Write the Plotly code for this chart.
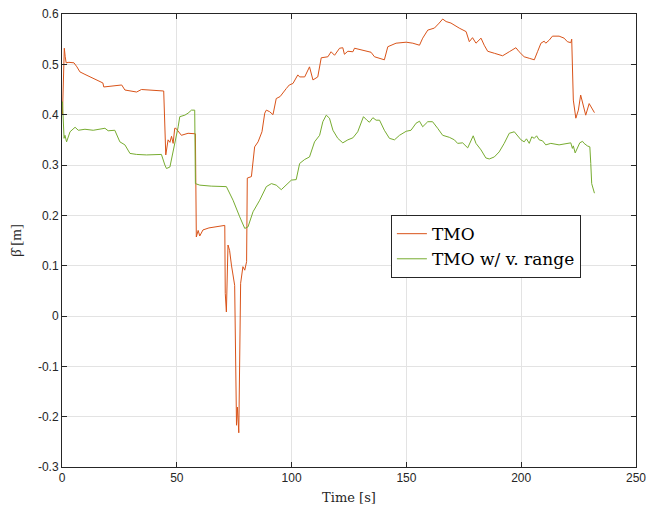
import plotly.graph_objects as go

# ---- data ----
tmo_t = [0.2, 0.6, 1.0, 1.4, 1.8, 3, 5.2, 6.5, 7.8, 10, 12, 13.6, 15.5, 17.8, 18.2, 21.6, 24, 26, 27.4, 30,
         32.5, 34.6, 37, 39.7, 42, 44.3, 45.2, 46.2, 47.0, 47.7, 48.4, 49.1, 49.6, 51, 52, 54.9, 58.1, 58.5,
         59.3, 60, 61.4, 64, 67, 70.9, 71.1, 71.6, 72.3, 73.0, 73.8, 75.2, 76.0, 76.4, 77.0, 77.8, 78.8, 79.6,
         80.4, 80.7, 82.5, 83.9, 85.4, 87.1, 88.3, 89, 90.4, 91.9, 93.3, 95, 97.7, 99, 100.6, 102.7, 103.5,
         105.7, 107.8, 109.3, 111.4, 112.9, 115.8, 117.2, 118.7, 120.9, 122.3, 123.0, 124.5, 126.7, 127.4,
         131, 134.6, 136.1, 140.4, 141.9, 145.5, 149.9, 152.8, 155.7, 157.1, 159.3, 162.2, 164.3, 165.8,
         167.3, 169.4, 173, 176, 177.4, 178.8, 180.3, 182.5, 183.9, 185.4, 188.3, 191.9, 194.8, 197.7, 199.1,
         201.3, 203.5, 205.7, 207.1, 208.6, 210, 210.7, 212.2, 213.6, 216.5, 218.7, 220.1, 221.6, 222.0,
         222.7, 223.8, 224.5, 224.9, 225.9, 226.7, 228.1, 229.6, 230.7, 231.9]
tmo_v = [0.40, 0.47, 0.532, 0.515, 0.503, 0.504, 0.503, 0.495, 0.485, 0.480, 0.476, 0.473, 0.468, 0.463, 0.455,
         0.457, 0.459, 0.459, 0.449, 0.447, 0.445, 0.450, 0.449, 0.449, 0.448, 0.447, 0.320, 0.350, 0.345, 0.357,
         0.343, 0.373, 0.373, 0.365, 0.359, 0.363, 0.362, 0.157, 0.170, 0.159, 0.171, 0.175, 0.177, 0.180, 0.045,
         0.008, 0.141, 0.130, 0.101, 0.061, -0.217, -0.181, -0.232, 0.065, 0.098, 0.091, 0.108, 0.274, 0.277,
         0.336, 0.346, 0.366, 0.403, 0.409, 0.406, 0.400, 0.432, 0.436, 0.452, 0.459, 0.462, 0.479, 0.475, 0.475,
         0.495, 0.469, 0.475, 0.513, 0.515, 0.525, 0.518, 0.532, 0.533, 0.520, 0.526, 0.525, 0.532, 0.528, 0.524,
         0.515, 0.509, 0.535, 0.542, 0.544, 0.542, 0.538, 0.552, 0.568, 0.572, 0.582, 0.590, 0.585, 0.582, 0.572,
         0.565, 0.545, 0.553, 0.542, 0.552, 0.538, 0.526, 0.522, 0.517, 0.525, 0.533, 0.525, 0.515, 0.512, 0.509,
         0.525, 0.542, 0.546, 0.542, 0.548, 0.556, 0.556, 0.552, 0.545, 0.543, 0.550, 0.429, 0.393, 0.403, 0.409,
         0.439, 0.422, 0.399, 0.422, 0.413, 0.404]

rng_t = [0.2, 0.5, 0.9, 1.3, 2.0, 3.5, 5.7, 7.1, 10, 13.6, 17.2, 18.7, 20.1, 23, 25.2, 27.4, 29.6, 32.5, 36.8,
         43.3, 44.8, 45.5, 47, 48.4, 50.6, 51.3, 53.5, 54.9, 56.4, 57.8, 58.1, 60, 65, 71.6, 74.5, 77.4, 79.6,
         81, 83.2, 86.1, 89, 91.2, 93.3, 95.5, 97.7, 99.9, 102, 102.7, 103.5, 105.7, 107.8, 110, 112.2, 113.6,
         115.1, 116.5, 118, 120.1, 122.3, 124.5, 126.7, 128.8, 130.3, 131.3, 132.8, 133.9, 135.4, 136.8, 138.3,
         140.4, 142.6, 144.8, 147, 149.9, 152, 154.2, 155.7, 157.1, 159.3, 161.4, 163.6, 165.8, 168.7, 170.9,
         172.3, 174.5, 176.7, 178.1, 179.1, 180.3, 182.5, 184.6, 186.1, 188.3, 190.4, 192.6, 194.8, 197, 198.4,
         199.9, 201.3, 202.3, 203.5, 204.6, 205.7, 206.7, 207.8, 209.3, 210.7, 212.9, 216.5, 218.7, 221.6,
         222.3, 222.7, 223.5, 224.5, 225.5, 226.7, 227.4, 228.8, 229.9, 230.3, 230.7, 231.9]
rng_v = [0.426, 0.38, 0.353, 0.359, 0.346, 0.366, 0.375, 0.369, 0.371, 0.369, 0.371, 0.373, 0.368, 0.369, 0.346,
         0.340, 0.323, 0.321, 0.320, 0.321, 0.300, 0.293, 0.296, 0.326, 0.376, 0.396, 0.399, 0.403, 0.409, 0.409,
         0.263, 0.260, 0.258, 0.257, 0.230, 0.197, 0.174, 0.177, 0.207, 0.230, 0.257, 0.263, 0.260, 0.251, 0.260,
         0.270, 0.271, 0.290, 0.303, 0.311, 0.316, 0.346, 0.359, 0.386, 0.399, 0.393, 0.369, 0.353, 0.344, 0.350,
         0.354, 0.366, 0.386, 0.396, 0.389, 0.385, 0.394, 0.389, 0.389, 0.369, 0.353, 0.350, 0.359, 0.367, 0.369,
         0.383, 0.387, 0.376, 0.386, 0.386, 0.373, 0.359, 0.355, 0.350, 0.343, 0.344, 0.334, 0.348, 0.358, 0.343,
         0.330, 0.314, 0.312, 0.316, 0.326, 0.343, 0.363, 0.366, 0.359, 0.350, 0.346, 0.352, 0.343, 0.356, 0.353,
         0.358, 0.350, 0.348, 0.340, 0.343, 0.340, 0.342, 0.344, 0.333, 0.338, 0.324, 0.336, 0.344, 0.347, 0.343,
         0.338, 0.336, 0.303, 0.263, 0.244]

x_ticks = [0, 50, 100, 150, 200, 250]
x_ticktext = ["0", "50", "100", "150", "200", "250"]
y_ticks = [-0.3, -0.2, -0.1, 0, 0.1, 0.2, 0.3, 0.4, 0.5, 0.6]
y_ticktext = ["-0.3", "-0.2", "-0.1", "0", "0.1", "0.2", "0.3", "0.4", "0.5", "0.6"]

series_names = ["TMO", "TMO w/ v. range"]
series_colors = ["#D95319", "#77AC30"]

fig = go.Figure()
fig.add_trace(go.Scatter(x=tmo_t, y=tmo_v, mode="lines", name=series_names[0],
                         line=dict(color=series_colors[0], width=1)))
fig.add_trace(go.Scatter(x=rng_t, y=rng_v, mode="lines", name=series_names[1],
                         line=dict(color=series_colors[1], width=1)))

serif = "DejaVu Serif, Liberation Serif, serif"
serif2 = "Liberation Serif, Times New Roman, serif"
axis_common = dict(
    showline=True, linecolor="#262626", linewidth=1, mirror="ticks",
    ticks="inside", ticklen=5, tickcolor="#262626", tickwidth=1,
    showgrid=True, gridcolor="#e3e3e3", gridwidth=1, zeroline=False,
    automargin=False,
    tickfont=dict(family="Liberation Sans, Arial, sans-serif", size=12, color="#262626"),
)

fig.update_layout(
    width=654, height=506,
    margin=dict(l=62, r=18, t=14, b=39),
    paper_bgcolor="white", plot_bgcolor="white",
    showlegend=True,
    legend=dict(x=0.573, y=0.556, xanchor="left", yanchor="top",
                bgcolor="white", bordercolor="#262626", borderwidth=1,
                font=dict(family=serif, size=17, color="#000000"),
                tracegroupgap=0, itemwidth=30),
    xaxis=dict(range=[0, 250], tickvals=x_ticks, ticktext=x_ticktext,
               title=dict(text="Time [s]", standoff=8,
                          font=dict(family=serif, size=13, color="#262626")),
               **axis_common),
    yaxis=dict(range=[-0.3, 0.6], tickvals=y_ticks, ticktext=y_ticktext,
               title=dict(text="\u03b2\u0302 [m]", standoff=12,
                          font=dict(family=serif2, size=15, color="#262626")),
               **axis_common),
)

fig.write_html("out.html")
